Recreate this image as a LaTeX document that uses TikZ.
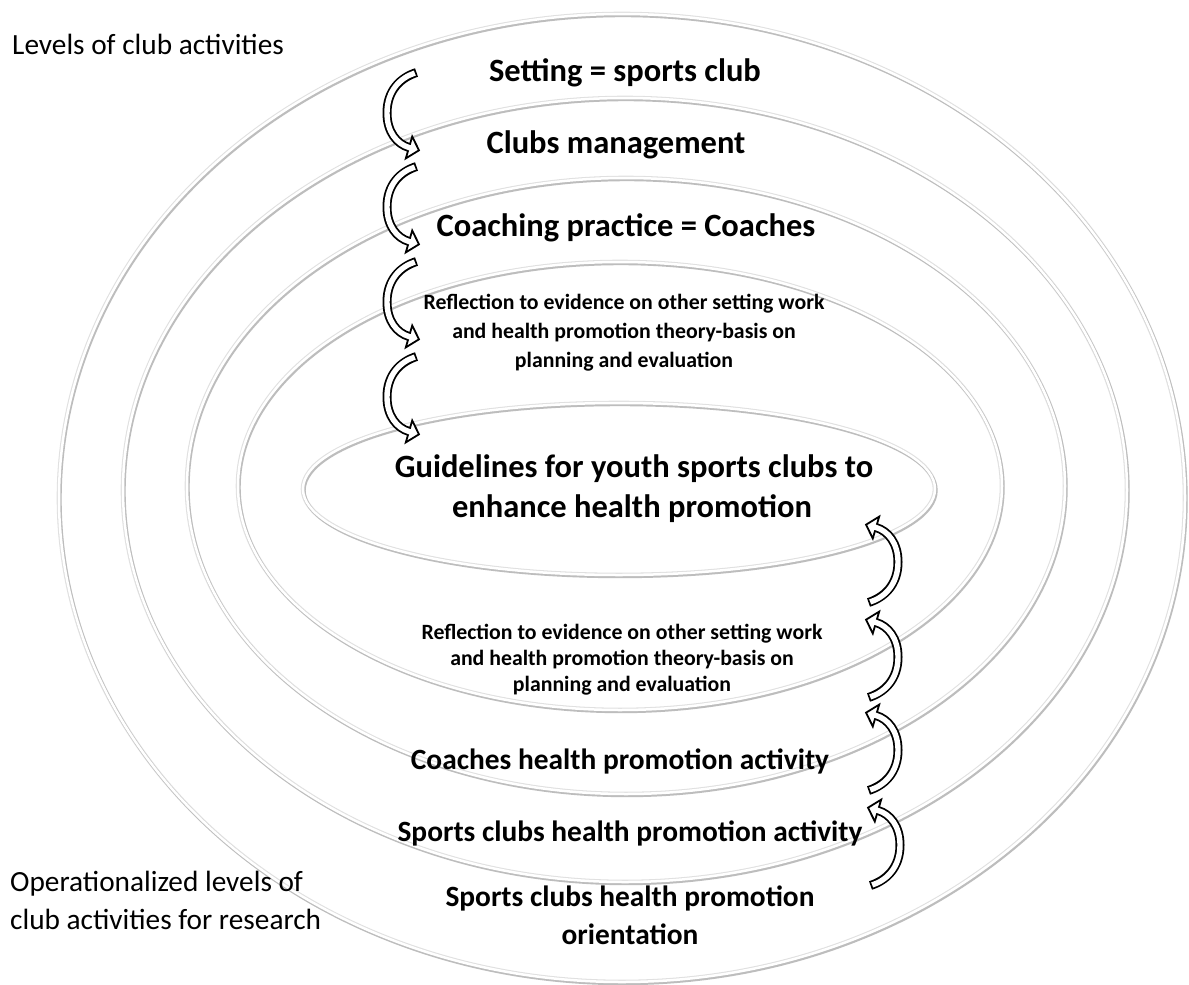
\documentclass[tikz,border=0pt]{standalone}
\usepackage{fontspec}
\setmainfont{Carlito}
\begin{document}
\begin{tikzpicture}[x=1pt,y=-1pt,
  ringbase/.style={draw=black!12, line width=4.6pt},
  ringshadow/.style={draw=black!26, line width=3.4pt},
  ringcore/.style={draw=white, line width=2.5pt},
  bigtext/.style={font=\fontsize{32.5}{39}\selectfont\bfseries, anchor=base, inner sep=0pt},
  midtext/.style={font=\fontsize{29.4}{36}\selectfont\bfseries, anchor=base, inner sep=0pt},
  smalltext/.style={font=\fontsize{21.8}{29}\selectfont\bfseries, anchor=base, inner sep=0pt},
  sidetext/.style={font=\fontsize{29.3}{38}\selectfont, anchor=base west, inner sep=0pt},
  curvearrow/.pic={
    \draw[black, line width=9pt] (1.5,4.5) .. controls (-14,9.5) and (-28,22) .. (-28,45)
      .. controls (-28,64) and (-18,76) .. (-6,79.5);
    \draw[fill=white, draw=black, line width=1.8pt, line join=miter]
      (-2.8,68.6) -- (4,82.3) -- (-9.2,90.4) -- cycle;
    \draw[white, line width=5.4pt, shorten <=1.8pt] (1.5,4.5) .. controls (-14,9.5) and (-28,22) .. (-28,45)
      .. controls (-28,64) and (-18,76) .. (-6,79.5) -- (-3.5,80.3);
  }
]
\useasboundingbox (0,0) rectangle (1189,985);
\fill[white] (0,0) rectangle (1189,985);

% nested rings
\foreach \cx/\cy/\rx/\ry in {622/498/563/484, 625/490/502/392, 626/486/439/308, 620/486/382/224, 619/489/316/86}{
  \draw[ringbase] (\cx,\cy) ellipse [x radius=\rx pt, y radius=\ry pt];
  \draw[ringshadow] (\cx+1,\cy+1.5) ellipse [x radius=\rx pt, y radius=\ry pt];
  \draw[ringcore] (\cx,\cy) ellipse [x radius=\rx pt, y radius=\ry pt];
}

% side captions
\node[sidetext] (levels) at (12,54) {Levels of club activities};
\node[sidetext] (oper1) at (10,891) {Operationalized levels of};
\node[sidetext] (oper2) at (10,929) {club activities for research};

% upper levels
\node[bigtext] (setting) at (625,81) {Setting = sports club};
\node[bigtext] (management) at (616,153) {Clubs management};
\node[bigtext] (coaching) at (626,236) {Coaching practice = Coaches};
\node[smalltext] (reflA1) at (624,309) {Reflection to evidence on other setting work};
\node[smalltext] (reflA2) at (624,338) {and health promotion theory-basis on};
\node[smalltext] (reflA3) at (624,367) {planning and evaluation};

% centre
\node[bigtext] (guide1) at (634,477) {Guidelines for youth sports clubs to};
\node[bigtext] (guide2) at (632,517) {enhance health promotion};

% lower levels
\node[smalltext] (reflB1) at (622,639) {Reflection to evidence on other setting work};
\node[smalltext] (reflB2) at (622,665) {and health promotion theory-basis on};
\node[smalltext] (reflB3) at (622,691) {planning and evaluation};
\node[midtext] (coachact) at (620,769) {Coaches health promotion activity};
\node[midtext] (clubact) at (630,841) {Sports clubs health promotion activity};
\node[midtext] (orient1) at (630,906) {Sports clubs health promotion};
\node[midtext] (orient2) at (630,944) {orientation};

% downward arrows (left)
\pic at (415,68) {curvearrow};
\pic at (415,162) {curvearrow};
\pic at (415,257) {curvearrow};
\pic at (415,352) {curvearrow};

% upward arrows (right)
\pic[rotate=180] at (870,607) {curvearrow};
\pic[rotate=180] at (870,702) {curvearrow};
\pic[rotate=180] at (870,795) {curvearrow};
\pic[rotate=180] at (872,890) {curvearrow};
\end{tikzpicture}
\end{document}
